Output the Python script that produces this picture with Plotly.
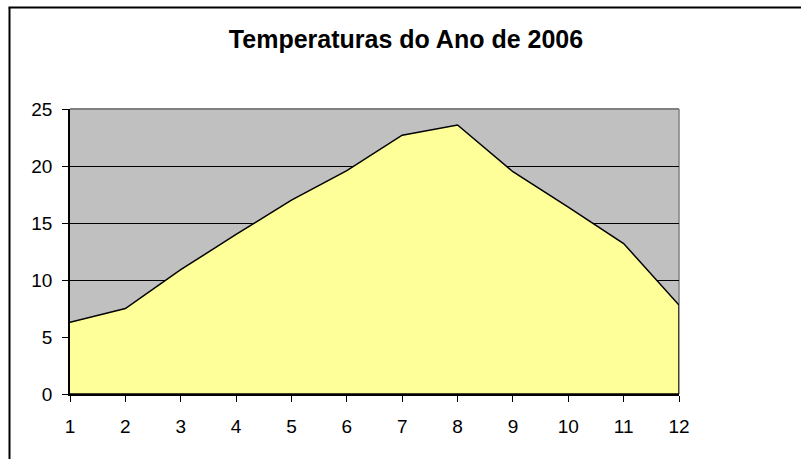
import plotly.graph_objects as go

months = [1, 2, 3, 4, 5, 6, 7, 8, 9, 10, 11, 12]
temps = [6.3, 7.5, 10.9, 14.0, 17.0, 19.6, 22.7, 23.6, 19.5, 16.4, 13.2, 7.8]
y_ticks = [0, 5, 10, 15, 20, 25]
title_text = "Temperaturas do Ano de 2006"

# closed polygon outline (area down to zero)
poly_x = months + [months[-1], months[0]]
poly_y = temps + [0, 0]

W, H = 801, 459
L, R, T, B = 70, 679, 109, 394

fig = go.Figure()
fig.add_trace(go.Scatter(
    x=poly_x, y=poly_y, fill="toself", fillcolor="#FFFF99",
    mode="lines", line=dict(color="black", width=1.5),
    hoverinfo="skip", showlegend=False,
))

def px2paper_x(px):
    return (px - L) / (R - L)

def px2paper_y(py):
    return (B - py) / (B - T)

shapes = [
    dict(type="line", xref="paper", yref="paper", x0=0, x1=1, y0=1, y1=1,
         line=dict(color="#808080", width=2), layer="above"),
    dict(type="line", xref="paper", yref="paper", x0=1, x1=1, y0=0, y1=1,
         line=dict(color="#808080", width=1.5), layer="below"),
    dict(type="line", xref="paper", yref="paper",
         x0=px2paper_x(9.5), x1=px2paper_x(9.5), y0=px2paper_y(480), y1=px2paper_y(7.5),
         line=dict(color="black", width=2), layer="above"),
    dict(type="line", xref="paper", yref="paper",
         x0=px2paper_x(8.5), x1=px2paper_x(830), y0=px2paper_y(7.5), y1=px2paper_y(7.5),
         line=dict(color="black", width=2), layer="above"),
]

fig.update_layout(
    width=W, height=H,
    margin=dict(l=L, r=W - R, t=T, b=H - B, autoexpand=False),
    paper_bgcolor="white",
    plot_bgcolor="#C0C0C0",
    font=dict(family="Liberation Sans, Arial, sans-serif", color="black", size=19),
    title=dict(text=title_text, x=406 / W, xanchor="center", xref="container",
               y=1 - 39 / H, yanchor="middle", yref="container",
               font=dict(size=25, family="Liberation Sans, Arial, sans-serif", color="black", weight="bold")),
    shapes=shapes,
    showlegend=False,
)
fig.update_xaxes(
    range=[1, 12], tickvals=months, ticktext=[str(m) for m in months],
    showgrid=False, zeroline=False, showline=True, linecolor="black", linewidth=1.5,
    ticks="outside", ticklen=6, tickcolor="black", tickwidth=1,
    ticklabelstandoff=8, tickfont=dict(size=19),
)
fig.update_yaxes(
    range=[0, 25], tickvals=y_ticks, showgrid=True, gridcolor="black", gridwidth=1,
    zeroline=False, showline=True, linecolor="black", linewidth=1.5,
    ticks="outside", ticklen=6, tickcolor="black", tickwidth=1,
    ticklabelstandoff=6, tickfont=dict(size=19),
)
fig.write_html("out.html", config={"displayModeBar": False},
               post_script="document.body.style.margin='0';document.body.style.overflow='hidden';")
